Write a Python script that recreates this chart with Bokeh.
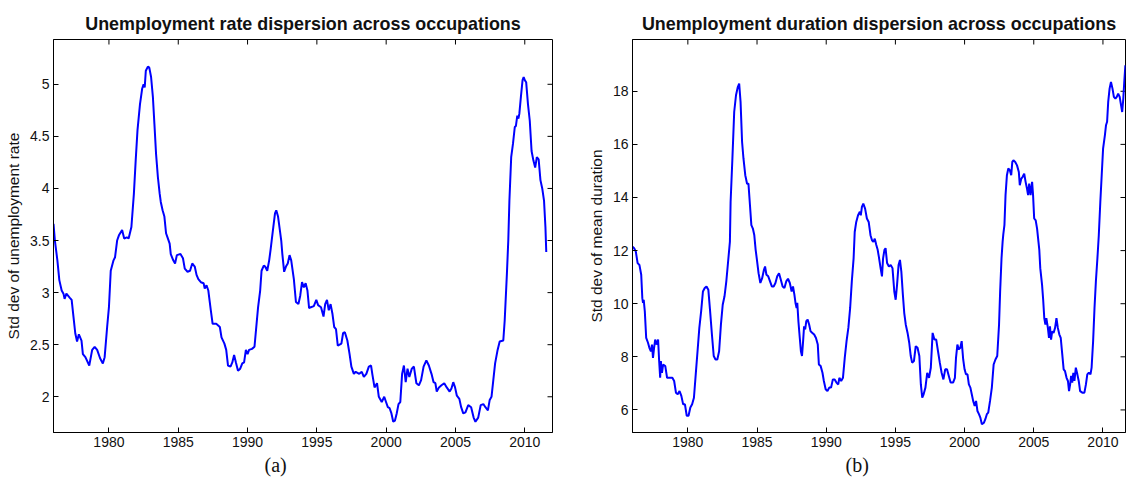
import math
from bokeh.plotting import figure
from bokeh.models import FixedTicker, Title, Range1d, LinearAxis
from bokeh.layouts import row
from bokeh.embed import file_html
from bokeh.resources import INLINE

# ---------------- data ----------------
years_a = [1976.00, 1976.10, 1976.28, 1976.42, 1976.59, 1976.72, 1976.80, 1976.93, 1977.18, 1977.31,
           1977.44, 1977.57, 1977.70, 1977.83, 1978.02, 1978.12, 1978.30, 1978.58, 1978.79, 1978.97,
           1979.15, 1979.36, 1979.56, 1979.69, 1979.87, 1980.00, 1980.13, 1980.33, 1980.44, 1980.59,
           1980.72, 1980.95, 1981.10, 1981.29, 1981.42, 1981.62, 1981.80, 1981.93, 1982.06, 1982.24,
           1982.40, 1982.50, 1982.58, 1982.66, 1982.81, 1982.91, 1983.04, 1983.17, 1983.28, 1983.40,
           1983.53, 1983.66, 1983.74, 1983.87, 1984.00, 1984.12, 1984.25, 1984.38, 1984.46, 1984.64,
           1984.77, 1984.90, 1985.16, 1985.34, 1985.47, 1985.67, 1985.85, 1986.01, 1986.19, 1986.32,
           1986.45, 1986.63, 1986.83, 1986.91, 1987.04, 1987.17, 1987.35, 1987.48, 1987.74, 1988.00,
           1988.12, 1988.33, 1988.46, 1988.59, 1988.77, 1988.90, 1989.03, 1989.16, 1989.31, 1989.47,
           1989.62, 1989.75, 1989.88, 1990.00, 1990.11, 1990.32, 1990.50, 1990.65, 1990.76, 1990.91,
           1991.01, 1991.17, 1991.27, 1991.42, 1991.56, 1991.66, 1991.74, 1991.86, 1991.98, 1992.07,
           1992.20, 1992.33, 1992.43, 1992.51, 1992.64, 1992.77, 1992.90, 1993.03, 1993.15, 1993.34,
           1993.49, 1993.67, 1993.80, 1993.93, 1994.06, 1994.19, 1994.32, 1994.44, 1994.57, 1994.78,
           1994.96, 1995.09, 1995.30, 1995.48, 1995.60, 1995.73, 1995.86, 1995.99, 1996.12, 1996.25,
           1996.38, 1996.51, 1996.77, 1996.89, 1997.02, 1997.20, 1997.36, 1997.49, 1997.67, 1997.80,
           1998.06, 1998.24, 1998.39, 1998.57, 1998.75, 1998.91, 1999.01, 1999.16, 1999.34, 1999.47,
           1999.68, 1999.86, 1999.99, 2000.12, 2000.25, 2000.38, 2000.51, 2000.63, 2000.76, 2000.89,
           2001.02, 2001.15, 2001.28, 2001.41, 2001.54, 2001.67, 2001.85, 2002.00, 2002.18, 2002.36,
           2002.52, 2002.70, 2002.90, 2003.08, 2003.27, 2003.42, 2003.55, 2003.65, 2003.81, 2003.99,
           2004.19, 2004.37, 2004.58, 2004.71, 2004.84, 2004.97, 2005.10, 2005.28, 2005.41, 2005.56,
           2005.72, 2005.92, 2006.13, 2006.31, 2006.44, 2006.64, 2006.82, 2007.01, 2007.16, 2007.34,
           2007.47, 2007.60, 2007.73, 2007.86, 2008.04, 2008.19, 2008.45, 2008.55, 2008.71, 2008.81,
           2008.89, 2009.02, 2009.15, 2009.28, 2009.36, 2009.46, 2009.54, 2009.61, 2009.72, 2009.84,
           2009.92, 2010.00, 2010.10, 2010.23, 2010.36, 2010.49, 2010.62, 2010.75, 2010.87, 2011.00,
           2011.13, 2011.26, 2011.39, 2011.49, 2011.55]
urate_sd = [3.66, 3.50, 3.31, 3.12, 3.02, 2.99, 2.94, 2.99, 2.95, 2.93,
            2.77, 2.61, 2.53, 2.60, 2.54, 2.41, 2.38, 2.30, 2.45, 2.48,
            2.45, 2.37, 2.32, 2.38, 2.67, 2.86, 3.21, 3.31, 3.34, 3.50,
            3.55, 3.60, 3.52, 3.53, 3.52, 3.63, 3.95, 4.27, 4.56, 4.81,
            4.96, 5.00, 4.97, 5.13, 5.17, 5.16, 5.07, 4.88, 4.62, 4.33,
            4.11, 3.95, 3.87, 3.79, 3.73, 3.57, 3.52, 3.47, 3.37, 3.31,
            3.28, 3.36, 3.37, 3.33, 3.23, 3.20, 3.21, 3.28, 3.25, 3.17,
            3.13, 3.10, 3.09, 3.04, 3.07, 3.02, 2.83, 2.70, 2.70, 2.67,
            2.57, 2.51, 2.45, 2.30, 2.29, 2.33, 2.40, 2.33, 2.25, 2.27,
            2.32, 2.33, 2.45, 2.41, 2.45, 2.46, 2.48, 2.70, 2.86, 3.02,
            3.21, 3.26, 3.25, 3.21, 3.31, 3.41, 3.50, 3.63, 3.76, 3.79,
            3.73, 3.60, 3.50, 3.37, 3.20, 3.25, 3.28, 3.36, 3.31, 3.13,
            2.91, 2.89, 2.97, 3.10, 3.05, 3.09, 3.02, 2.85, 2.86, 2.87,
            2.93, 2.88, 2.86, 2.77, 2.89, 2.93, 2.83, 2.89, 2.80, 2.67,
            2.65, 2.49, 2.51, 2.61, 2.62, 2.54, 2.41, 2.29, 2.22, 2.24,
            2.22, 2.24, 2.19, 2.22, 2.29, 2.30, 2.21, 2.09, 2.13, 2.00,
            1.95, 2.00, 1.95, 1.90, 1.89, 1.84, 1.76, 1.77, 1.84, 1.93,
            1.95, 2.22, 2.30, 2.14, 2.27, 2.19, 2.27, 2.29, 2.13, 2.11,
            2.16, 2.29, 2.35, 2.30, 2.22, 2.14, 2.13, 2.05, 2.09, 2.11,
            2.13, 2.09, 2.05, 2.08, 2.14, 2.09, 2.01, 1.98, 1.90, 1.84,
            1.85, 1.92, 1.90, 1.80, 1.76, 1.80, 1.92, 1.93, 1.90, 1.87,
            1.97, 2.00, 2.16, 2.32, 2.45, 2.53, 2.54, 2.73, 3.18, 3.50,
            3.88, 4.30, 4.43, 4.59, 4.60, 4.70, 4.67, 4.72, 4.88, 5.04,
            5.07, 5.04, 5.02, 4.81, 4.65, 4.36, 4.27, 4.20, 4.30, 4.28,
            4.08, 4.00, 3.88, 3.63, 3.39]

years_b = [1976.00, 1976.12, 1976.24, 1976.37, 1976.50, 1976.63, 1976.71, 1976.76, 1976.81, 1976.89,
           1976.99, 1977.12, 1977.22, 1977.33, 1977.41, 1977.48, 1977.56, 1977.64, 1977.74, 1977.85,
           1977.92, 1978.00, 1978.05, 1978.13, 1978.21, 1978.37, 1978.50, 1978.88, 1979.01, 1979.14,
           1979.27, 1979.40, 1979.53, 1979.66, 1979.79, 1979.92, 1980.05, 1980.18, 1980.31, 1980.44,
           1980.57, 1980.70, 1980.83, 1980.96, 1981.09, 1981.22, 1981.35, 1981.48, 1981.61, 1981.74,
           1981.87, 1982.00, 1982.13, 1982.26, 1982.39, 1982.52, 1982.65, 1982.78, 1982.91, 1983.04,
           1983.09, 1983.22, 1983.35, 1983.48, 1983.61, 1983.71, 1983.81, 1983.92, 1984.02, 1984.15,
           1984.28, 1984.38, 1984.49, 1984.59, 1984.70, 1984.80, 1984.90, 1984.98, 1985.11, 1985.24,
           1985.37, 1985.50, 1985.58, 1985.68, 1985.81, 1985.94, 1986.07, 1986.20, 1986.33, 1986.46,
           1986.59, 1986.72, 1986.85, 1986.98, 1987.11, 1987.24, 1987.37, 1987.50, 1987.60, 1987.70,
           1987.78, 1987.86, 1987.91, 1987.99, 1988.09, 1988.17, 1988.25, 1988.33, 1988.40, 1988.48,
           1988.56, 1988.66, 1988.77, 1988.87, 1989.00, 1989.13, 1989.26, 1989.39, 1989.47, 1989.60,
           1989.73, 1989.83, 1989.96, 1990.09, 1990.22, 1990.35, 1990.48, 1990.61, 1990.74, 1990.87,
           1990.95, 1991.08, 1991.21, 1991.34, 1991.47, 1991.60, 1991.73, 1991.85, 1991.98, 1992.06,
           1992.17, 1992.30, 1992.43, 1992.50, 1992.58, 1992.68, 1992.81, 1992.94, 1993.07, 1993.20,
           1993.31, 1993.41, 1993.51, 1993.62, 1993.72, 1993.80, 1993.93, 1994.03, 1994.11, 1994.21,
           1994.29, 1994.40, 1994.53, 1994.66, 1994.79, 1994.92, 1995.02, 1995.12, 1995.23, 1995.33,
           1995.43, 1995.54, 1995.64, 1995.75, 1995.88, 1996.00, 1996.11, 1996.21, 1996.34, 1996.47,
           1996.60, 1996.73, 1996.84, 1996.94, 1997.04, 1997.17, 1997.30, 1997.43, 1997.56, 1997.69,
           1997.82, 1997.95, 1998.08, 1998.21, 1998.34, 1998.47, 1998.60, 1998.73, 1998.86, 1998.99,
           1999.17, 1999.30, 1999.38, 1999.48, 1999.58, 1999.69, 1999.79, 1999.90, 2000.00, 2000.10,
           2000.21, 2000.31, 2000.42, 2000.52, 2000.62, 2000.73, 2000.83, 2000.93, 2001.04, 2001.14,
           2001.25, 2001.40, 2001.50, 2001.61, 2001.71, 2001.84, 2001.97, 2002.10, 2002.23, 2002.36,
           2002.49, 2002.57, 2002.67, 2002.75, 2002.80, 2002.88, 2002.96, 2003.06, 2003.16, 2003.27,
           2003.37, 2003.45, 2003.53, 2003.66, 2003.79, 2003.92, 2003.99, 2004.10, 2004.20, 2004.31,
           2004.41, 2004.51, 2004.59, 2004.67, 2004.77, 2004.88, 2004.95, 2005.03, 2005.14, 2005.24,
           2005.34, 2005.40, 2005.47, 2005.60, 2005.68, 2005.76, 2005.84, 2005.91, 2006.02, 2006.10,
           2006.17, 2006.25, 2006.33, 2006.43, 2006.54, 2006.64, 2006.74, 2006.85, 2006.95, 2007.06,
           2007.16, 2007.26, 2007.37, 2007.47, 2007.55, 2007.63, 2007.70, 2007.78, 2007.86, 2007.94,
           2008.04, 2008.15, 2008.25, 2008.35, 2008.51, 2008.66, 2008.77, 2008.87, 2008.98, 2009.10,
           2009.18, 2009.29, 2009.39, 2009.49, 2009.60, 2009.70, 2009.81, 2009.91, 2010.01, 2010.14,
           2010.22, 2010.30, 2010.38, 2010.48, 2010.58, 2010.69, 2010.79, 2010.90, 2011.00, 2011.10,
           2011.21, 2011.31, 2011.39, 2011.47, 2011.54, 2011.62]
duration_sd = [12.15, 12.09, 11.96, 11.53, 11.46, 11.09, 10.21, 10.03, 10.15, 9.71,
               8.71, 8.53, 8.34, 8.21, 8.46, 7.96, 8.34, 8.65, 8.46, 8.65,
               7.90, 7.21, 7.84, 7.40, 7.71, 7.65, 7.21, 7.21, 7.09, 6.65,
               6.59, 6.71, 6.53, 6.21, 6.21, 5.78, 5.78, 6.09, 6.21, 6.46,
               7.34, 8.21, 9.09, 9.71, 10.46, 10.59, 10.65, 10.53, 9.71, 8.84,
               8.03, 7.90, 7.90, 8.21, 9.21, 9.96, 10.28, 10.84, 11.59, 12.34,
               13.83, 15.47, 17.22, 17.85, 18.16, 18.29, 17.60, 16.09, 15.47, 14.84,
               14.52, 14.52, 13.71, 12.96, 12.83, 12.59, 12.03, 11.71, 11.15, 10.78,
               10.96, 11.28, 11.40, 11.09, 11.03, 10.84, 10.65, 10.65, 10.78, 11.03,
               11.15, 10.90, 10.65, 10.59, 10.84, 10.94, 10.78, 10.46, 10.65, 10.34,
               10.03, 9.84, 10.03, 9.34, 8.71, 8.21, 8.03, 8.59, 9.15, 9.03,
               9.34, 9.40, 9.21, 8.96, 8.90, 8.84, 8.71, 8.46, 7.71, 7.65,
               7.40, 7.09, 6.78, 6.71, 6.84, 6.84, 7.15, 7.15, 7.03, 6.96,
               7.21, 7.09, 7.21, 7.96, 8.59, 9.09, 9.84, 10.84, 11.71, 12.70,
               13.08, 13.33, 13.46, 13.33, 13.65, 13.77, 13.58, 13.21, 13.08, 12.58,
               12.39, 12.33, 12.45, 12.21, 12.03, 11.78, 11.34, 11.03, 11.71, 12.03,
               12.09, 11.53, 11.40, 11.46, 11.34, 10.46, 10.15, 10.71, 11.46, 11.65,
               11.21, 10.34, 9.65, 9.21, 8.90, 8.53, 8.03, 7.78, 7.84, 8.40,
               8.34, 8.03, 6.96, 6.46, 6.59, 6.84, 7.40, 7.21, 7.59, 8.90,
               8.65, 8.65, 8.21, 7.78, 7.40, 7.15, 7.53, 7.53, 7.28, 7.03,
               7.03, 7.21, 7.96, 8.46, 8.28, 8.34, 8.59, 7.90, 7.53, 7.34,
               7.34, 6.96, 6.84, 6.59, 6.34, 6.15, 6.34, 5.96, 5.84, 5.71,
               5.46, 5.52, 5.65, 5.84, 5.90, 6.34, 6.84, 7.71, 7.90, 8.03,
               9.21, 10.46, 11.71, 12.34, 12.62, 12.96, 14.09, 14.84, 15.09, 15.03,
               14.84, 15.34, 15.40, 15.34, 15.21, 14.96, 14.46, 14.71, 14.78, 14.90,
               14.59, 14.34, 14.09, 14.52, 14.09, 14.59, 14.09, 13.21, 13.14, 12.83,
               12.33, 12.03, 11.34, 10.71, 10.15, 9.46, 9.21, 9.46, 9.09, 8.71,
               9.15, 8.65, 8.96, 8.90, 9.09, 9.46, 9.09, 8.84, 8.71, 8.09,
               7.53, 7.46, 7.21, 7.09, 6.71, 6.96, 7.28, 7.03, 7.40, 7.09,
               7.59, 7.34, 7.09, 6.71, 6.65, 6.65, 6.96, 7.34, 7.40, 7.34,
               7.59, 8.59, 9.84, 10.84, 11.71, 12.58, 13.83, 14.84, 15.84, 16.34,
               16.72, 16.85, 17.60, 18.10, 18.35, 18.10, 17.79, 17.72, 17.79, 17.91,
               17.79, 17.47, 17.22, 17.72, 18.35, 18.98]

year_ticks = [1980, 1985, 1990, 1995, 2000, 2005, 2010]
ticks_a = [2, 2.5, 3, 3.5, 4, 4.5, 5]
ticks_b = [6, 8, 10, 12, 14, 16, 18]

title_a = "Unemployment rate dispersion across occupations"
title_b = "Unemployment duration dispersion across occupations"
ylabel_a = "Std dev of unemployment rate"
ylabel_b = "Std dev of mean duration"

SANS = "Liberation Sans"
INK = "#111111"
TICK_LEN = 5


def style_axis(ax):
    ax.axis_line_color = "black"
    ax.axis_line_width = 1
    ax.major_tick_line_color = "black"
    ax.major_tick_in = TICK_LEN
    ax.major_tick_out = 0
    ax.minor_tick_line_color = None
    ax.major_label_text_font = SANS
    ax.major_label_text_color = INK
    ax.major_label_text_font_size = "14px"
    ax.major_label_standoff = 4


def panel(xs, ys, x_end, y_lo, y_hi, yticks, title, ylabel, caption,
          width, border_left, border_top, border_right, cap_offset, label_fmt):
    p = figure(width=width, height=491,
               x_range=Range1d(1976, x_end), y_range=Range1d(y_lo, y_hi),
               output_backend="svg", toolbar_location=None,
               min_border_left=border_left, min_border_right=border_right,
               min_border_top=border_top, min_border_bottom=59,
               background_fill_color="white", border_fill_color="white")
    p.grid.visible = False
    p.outline_line_color = "black"
    p.outline_line_width = 1

    p.title.text = title
    p.title.text_font = SANS
    p.title.text_font_size = "17.9px"
    p.title.text_font_style = "bold"
    p.title.text_color = INK
    p.title.align = "center"
    p.title.standoff = 12

    p.xaxis.ticker = FixedTicker(ticks=year_ticks)
    p.yaxis.ticker = FixedTicker(ticks=yticks)
    style_axis(p.xaxis[0])
    style_axis(p.yaxis[0])
    p.yaxis[0].axis_label = ylabel
    p.yaxis[0].axis_label_text_font = SANS
    p.yaxis[0].axis_label_text_font_size = "15.5px"
    p.yaxis[0].axis_label_text_font_style = "normal"
    p.yaxis[0].axis_label_text_color = INK
    p.yaxis[0].axis_label_standoff = 5
    if label_fmt:
        p.yaxis[0].major_label_overrides = label_fmt

    # inward ticks on the top and right edges of the box (MATLAB "box on")
    p.ray(x=year_ticks, y=[y_hi] * len(year_ticks), length=TICK_LEN,
          length_units="screen", angle=-math.pi / 2, line_color="black", line_width=1)
    p.ray(x=[x_end] * len(yticks), y=yticks, length=TICK_LEN,
          length_units="screen", angle=math.pi, line_color="black", line_width=1)

    p.line(xs, ys, line_color="#0000ff", line_width=2)

    # empty spacer axis (no ticks, no labels) to push the caption lower
    spacer = LinearAxis(ticker=FixedTicker(ticks=[]), axis_line_color=None,
                        major_tick_line_color=None, minor_tick_line_color=None,
                        major_tick_in=0, major_tick_out=10, minor_tick_in=0,
                        minor_tick_out=0, major_label_standoff=0)
    p.add_layout(spacer, "below")

    cap = Title(text=caption, align="left", offset=cap_offset,
                text_font="Liberation Serif", text_font_size="20px",
                text_font_style="normal", text_color=INK, standoff=4)
    p.add_layout(cap, "below")
    return p


fmt_a = {2: "2", 2.5: "2.5", 3: "3", 3.5: "3.5", 4: "4", 4.5: "4.5", 5: "5"}

pa = panel(years_a, urate_sd, 2012.0, 1.657, 5.43, ticks_a, title_a, ylabel_a, "(a)",
           width=584, border_left=53, border_top=39, border_right=32, cap_offset=211,
           label_fmt=fmt_a)
pb = panel(years_b, duration_sd, 2011.63, 5.15, 19.95, ticks_b, title_b, ylabel_b, "(b)",
           width=542, border_left=45, border_top=36, border_right=1, cap_offset=213,
           label_fmt=None)

layout = row(pa, pb)
open("out.html", "w").write(file_html(layout, INLINE))
